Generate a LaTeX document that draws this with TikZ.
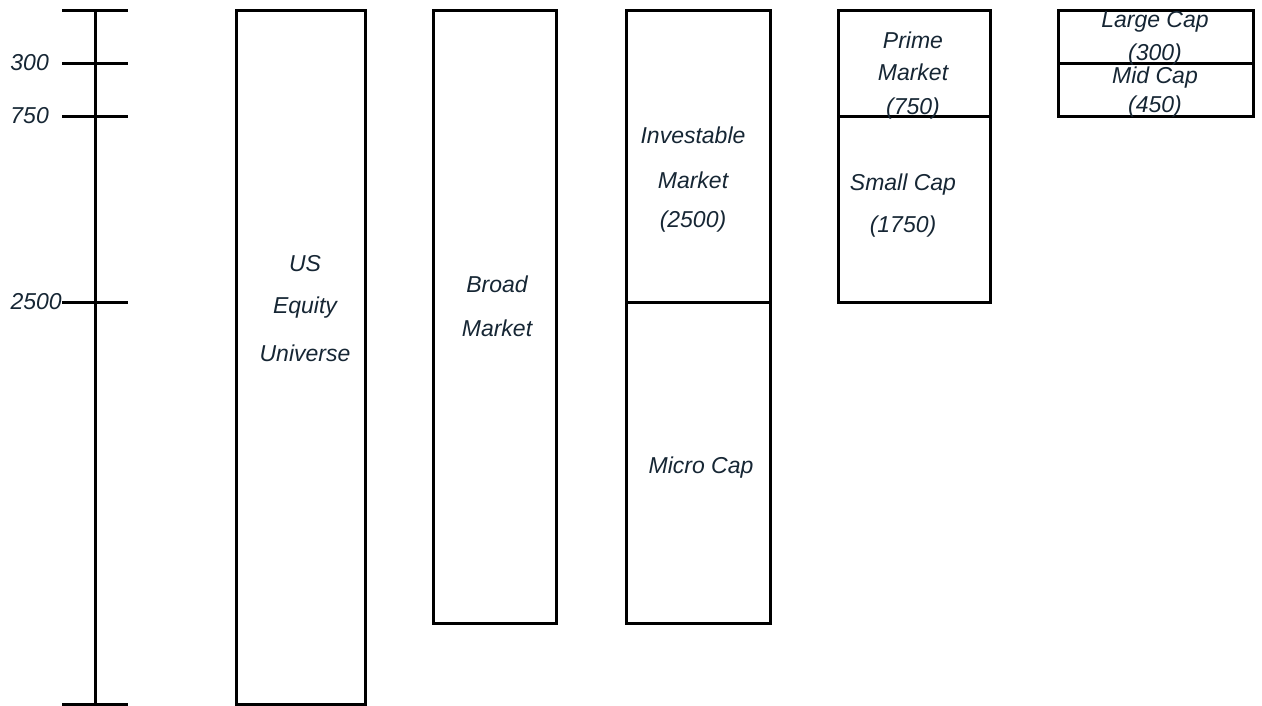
\documentclass[tikz,border=0pt]{standalone}
\usepackage{fontspec}
\setmainfont{Liberation Sans}
\definecolor{txt}{RGB}{22,38,52}
\begin{document}
\begin{tikzpicture}[x=1pt,y=-1pt,
  lbl/.style={font=\fontsize{23}{27}\selectfont\itshape, text=txt, inner sep=0pt},
  boxline/.style={draw=black, line width=3pt},
  tick/.style={draw=black, line width=3pt}]
\useasboundingbox (0,0) rectangle (1262,705);
% axis
\coordinate (axtop) at (95,10);
\coordinate (axbot) at (95,704);
\draw[tick] (axtop) -- (axbot);
\foreach \y in {10,63,116,302,704} {
  \draw[tick] (62,\y) -- (128,\y);
}
\node[lbl, anchor=east] (t300) at (49,63) {300};
\node[lbl, anchor=east] (t750) at (49,116) {750};
\node[lbl, anchor=east] (t2500) at (62,302) {2500};
% boxes
\draw[boxline] (236,10) rectangle (365,704);
\draw[boxline] (433,10) rectangle (556,623);
\draw[boxline] (626,10) rectangle (770,623);
\draw[boxline] (626,302) -- (770,302);
\draw[boxline] (838,10) rectangle (990,302);
\draw[boxline] (838,116) -- (990,116);
\draw[boxline] (1058,10) rectangle (1253,116);
\draw[boxline] (1058,63) -- (1253,63);
% labels
\node[lbl] (us1) at (305,264) {US};
\node[lbl] (us2) at (305,308) {Equity};
\node[lbl] (us3) at (305,353) {Universe};
\node[lbl] (br1) at (497,284) {Broad};
\node[lbl] (br2) at (497,328) {Market};
\node[lbl] (in1) at (693,135) {Investable};
\node[lbl] (in2) at (693,180) {Market};
\node[lbl] (in3) at (693,222) {(2500)};
\node[lbl] (mc) at (701,468) {Micro Cap};
\node[lbl] (pm1) at (913,40) {Prime};
\node[lbl] (pm2) at (913,72) {Market};
\node[lbl] (pm3) at (913,109) {(750)};
\node[lbl] (sc1) at (903,185) {Small Cap};
\node[lbl] (sc2) at (903,227) {(1750)};
\node[lbl] (lc1) at (1155,22) {Large Cap};
\node[lbl] (lc2) at (1155,55) {(300)};
\node[lbl] (md1) at (1155,78) {Mid Cap};
\node[lbl] (md2) at (1155,107) {(450)};
\end{tikzpicture}
\end{document}
